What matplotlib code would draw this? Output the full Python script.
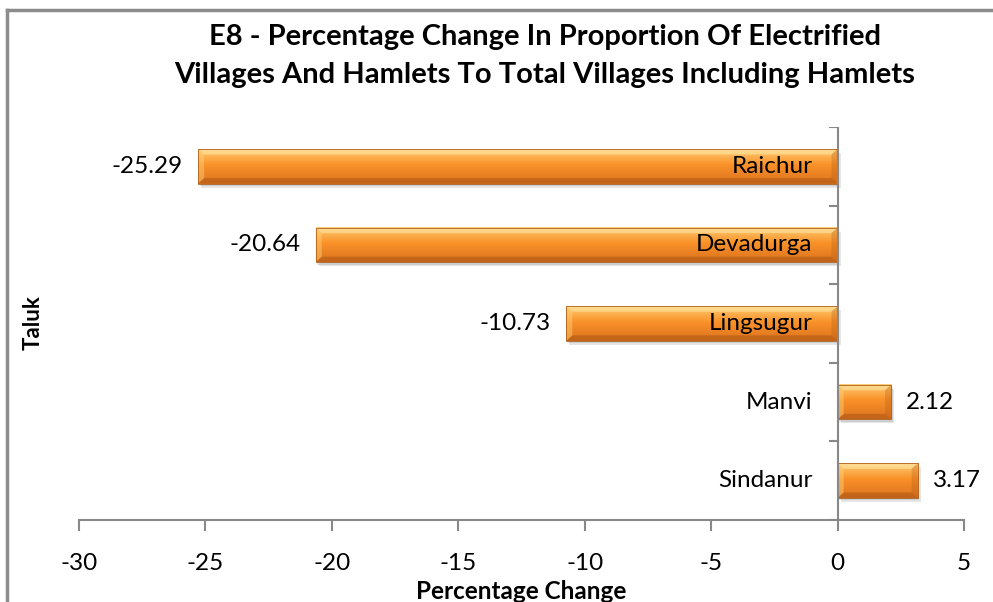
import matplotlib.pyplot as plt
import numpy as np
from matplotlib.patches import Polygon, Rectangle
from matplotlib.lines import Line2D

taluks = ["Raichur", "Devadurga", "Lingsugur", "Manvi", "Sindanur"]
changes = [-25.29, -20.64, -10.73, 2.12, 3.17]
x_ticks = [-30, -25, -20, -15, -10, -5, 0, 5]

plt.rcParams["font.family"] = ["Lato", "DejaVu Sans"]

fig = plt.figure(figsize=(9.93, 6.02), dpi=100)
ax = fig.add_axes([79 / 993, 1 - 520 / 602, 885 / 993, 393 / 602])

bar_h = 0.44
grad = np.linspace(0, 1, 64)[:, None]
top_col = np.array([1.00, 0.80, 0.45])
mid_col = np.array([0.98, 0.57, 0.16])
bot_col = np.array([0.86, 0.45, 0.12])
rgb = np.where(grad < 0.45,
               top_col + (mid_col - top_col) * (grad / 0.45),
               mid_col + (bot_col - mid_col) * ((grad - 0.45) / 0.55))
rgb = np.repeat(rgb[:, None, :], 2, axis=1).reshape(64, 2, 3)

bx = 0.24   # bevel width in x units
by = 0.07   # bevel height in y units
for i, (name, val) in enumerate(zip(taluks, changes)):
    left, right = min(0, val), max(0, val)
    y0, y1 = i - bar_h / 2, i + bar_h / 2
    # soft shadow
    ax.add_patch(Rectangle((left + 0.12, y0 + 0.05), right - left, bar_h,
                           facecolor="#000000", alpha=0.10, edgecolor="none", zorder=1))
    ax.add_patch(Rectangle((left + 0.06, y0 + 0.03), right - left, bar_h,
                           facecolor="#000000", alpha=0.10, edgecolor="none", zorder=1))
    ax.imshow(rgb, extent=[left, right, y1, y0], aspect="auto", zorder=2,
              interpolation="bilinear")
    # bevel facets
    ax.add_patch(Polygon([(left, y0), (right, y0), (right - bx, y0 + by), (left + bx, y0 + by)],
                         facecolor="#ffe9a8", alpha=0.55, edgecolor="none", zorder=3))
    ax.add_patch(Polygon([(left, y1), (right, y1), (right - bx, y1 - by), (left + bx, y1 - by)],
                         facecolor="#9a4c12", alpha=0.40, edgecolor="none", zorder=3))
    ax.add_patch(Polygon([(left, y0), (left + bx, y0 + by), (left + bx, y1 - by), (left, y1)],
                         facecolor="#ffd27a", alpha=0.45, edgecolor="none", zorder=3))
    ax.add_patch(Polygon([(right, y0), (right - bx, y0 + by), (right - bx, y1 - by), (right, y1)],
                         facecolor="#b45a14", alpha=0.30, edgecolor="none", zorder=3))
    ax.add_patch(Rectangle((left, y0), right - left, bar_h, facecolor="none",
                           edgecolor="#b0601c", linewidth=0.6, zorder=4))

    # category label next to the zero line
    ax.text(-1.0, i, name, ha="right", va="center", fontsize=17.5, color="black", zorder=5)
    # value label
    if val < 0:
        ax.text(val - 0.6, i, f"{val:.2f}", ha="right", va="center", fontsize=17.5, color="black")
    else:
        ax.text(val + 0.6, i, f"{val:.2f}", ha="left", va="center", fontsize=17.5, color="black")

ax.set_xlim(-30, 5)
ax.set_ylim(len(taluks) - 0.5, -0.5)

for side in ["top", "right", "left"]:
    ax.spines[side].set_visible(False)
ax.spines["bottom"].set_color("#888888")
ax.spines["bottom"].set_linewidth(1.5)
ax.set_xticks(x_ticks)
ax.set_xticklabels([str(t) for t in x_ticks], fontsize=17.5)
ax.tick_params(axis="x", length=8, width=1.5, color="#888888", pad=16)
ax.set_yticks([])

# vertical category axis at zero with ticks between categories
ax.axvline(0, color="#888888", linewidth=1.5, zorder=6)
for b in np.arange(-0.5, len(taluks), 1.0):
    ax.add_line(Line2D([-0.3, 0], [b, b], color="#888888", linewidth=1.5, zorder=6))

ax.set_xlabel("Percentage Change", fontsize=17.5, fontweight="bold", labelpad=4)
fig.text(33 / 993, 1 - 323 / 602, "Taluk", rotation=90, ha="center", va="center",
         fontsize=16, fontweight="bold")

fig.text(545 / 993, 1 - 37 / 602, "E8 - Percentage Change In Proportion Of Electrified",
         ha="center", va="center", fontsize=21, fontweight="bold")
fig.text(545 / 993, 1 - 75 / 602, "Villages And Hamlets To Total Villages Including Hamlets",
         ha="center", va="center", fontsize=21, fontweight="bold")

# chart frame
fig.add_artist(Line2D([7 / 993, 7 / 993], [0, 1 - 10 / 602], transform=fig.transFigure,
                      color="#8c8c8c", linewidth=2.5))
fig.add_artist(Line2D([7 / 993, 1], [1 - 10 / 602, 1 - 10 / 602], transform=fig.transFigure,
                      color="#8c8c8c", linewidth=2.5))

fig.savefig("out.png", dpi=100)
